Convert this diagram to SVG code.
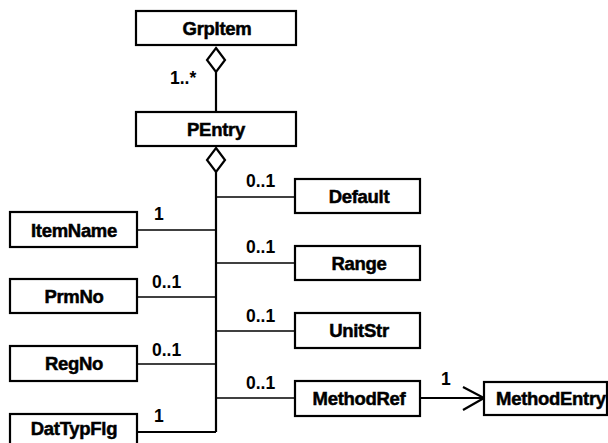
<svg xmlns="http://www.w3.org/2000/svg" width="608" height="443" viewBox="0 0 608 443">
<style>
.box{fill:#fff;stroke:#000;stroke-width:2.2}
.name{font-family:"Liberation Sans",Arial,sans-serif;font-weight:bold;font-size:18.5px;text-anchor:middle;fill:#000;stroke:#000;stroke-width:0.5;letter-spacing:-0.3px}
.lbl{font-family:"Liberation Sans",Arial,sans-serif;font-weight:bold;font-size:17.5px;fill:#000}
.ln{stroke:#000;stroke-width:1.6;fill:none}
.dia{fill:#fff;stroke:#000;stroke-width:2.2}
</style>
<rect width="608" height="443" fill="#fff"/>
<g id="connectors">
<line class="ln" x1="216" y1="72" x2="216" y2="112" style="stroke-width:2.2"/>
<path class="dia" d="M216,48 L225,60 L216,72 L207,60 Z"/>
<text class="lbl" x="170" y="84">1..*</text>
<line class="ln" x1="216" y1="172" x2="216" y2="432" style="stroke-width:2.2"/>
<path class="dia" d="M216,148 L225,160 L216,172 L207,160 Z"/>
<line class="ln" x1="137" y1="230" x2="216" y2="230"/>
<line class="ln" x1="137" y1="297" x2="216" y2="297"/>
<line class="ln" x1="137" y1="364" x2="216" y2="364"/>
<line class="ln" x1="137" y1="432" x2="216" y2="432" style="stroke-width:2.2"/>
<line class="ln" x1="216" y1="197" x2="295" y2="197"/>
<line class="ln" x1="216" y1="263" x2="295" y2="263"/>
<line class="ln" x1="216" y1="331" x2="295" y2="331"/>
<line class="ln" x1="216" y1="398" x2="295" y2="398"/>
<text class="lbl" x="154" y="220">1</text>
<text class="lbl" x="152" y="288">0..1</text>
<text class="lbl" x="152" y="356">0..1</text>
<text class="lbl" x="154" y="422">1</text>
<text class="lbl" x="246" y="187">0..1</text>
<text class="lbl" x="246" y="253">0..1</text>
<text class="lbl" x="246" y="322">0..1</text>
<text class="lbl" x="246" y="389">0..1</text>
<line class="ln" x1="420" y1="398" x2="484" y2="398" style="stroke-width:2.2"/>
<polyline class="ln" points="463,387 484,398 463,410" style="stroke-width:2.2"/>
<text class="lbl" x="441" y="385">1</text>
</g>
<g id="GrpItem"><rect class="box" x="136" y="11" width="160" height="34"/><text class="name" x="217" y="35">GrpItem</text></g>
<g id="PEntry"><rect class="box" x="136" y="112" width="160" height="34"/><text class="name" x="216" y="136">PEntry</text></g>
<g id="ItemName"><rect class="box" x="10" y="212" width="127" height="35"/><text class="name" x="74" y="237">ItemName</text></g>
<g id="PrmNo"><rect class="box" x="10" y="279" width="127" height="34"/><text class="name" x="74" y="303">PrmNo</text></g>
<g id="RegNo"><rect class="box" x="10" y="346" width="127" height="35"/><text class="name" x="74" y="370">RegNo</text></g>
<g id="DatTypFlg"><rect class="box" x="10" y="414" width="127" height="40"/><text class="name" x="74" y="435">DatTypFlg</text></g>
<g id="Default"><rect class="box" x="295" y="179" width="125" height="34"/><text class="name" x="359" y="203">Default</text></g>
<g id="Range"><rect class="box" x="295" y="246" width="125" height="34"/><text class="name" x="359" y="270">Range</text></g>
<g id="UnitStr"><rect class="box" x="295" y="313" width="125" height="35"/><text class="name" x="359" y="337">UnitStr</text></g>
<g id="MethodRef"><rect class="box" x="295" y="381" width="125" height="35"/><text class="name" x="359" y="405">MethodRef</text></g>
<g id="MethodEntry"><rect class="box" x="484" y="382" width="123" height="33"/><text class="name" x="551" y="405">MethodEntry</text></g>
</svg>
